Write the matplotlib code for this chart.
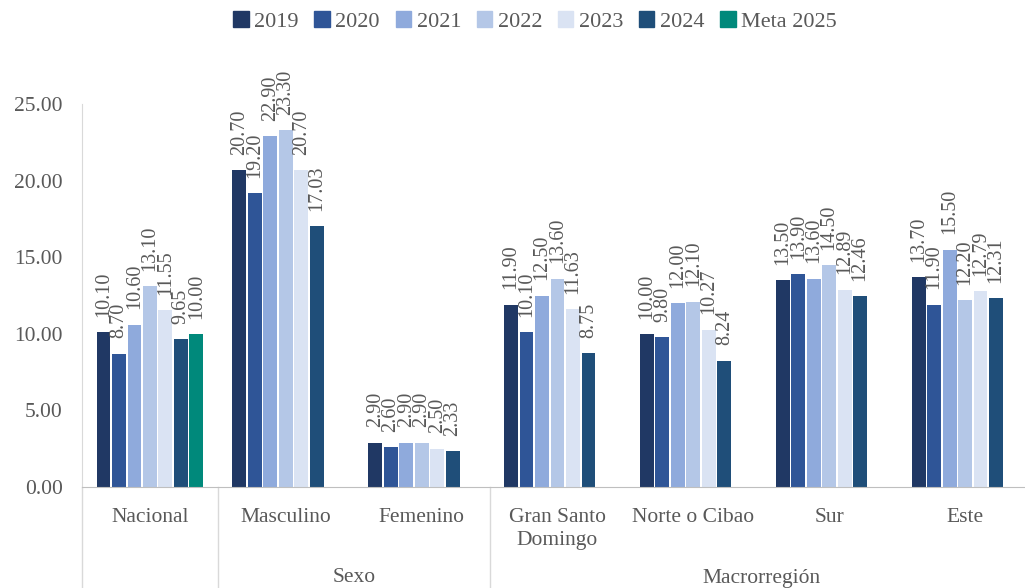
import matplotlib.pyplot as plt
import matplotlib.transforms as mtransforms
from matplotlib.patches import Patch

categories = ["Nacional", "Masculino", "Femenino", "Gran Santo\nDomingo",
              "Norte o Cibao", "Sur", "Este"]
years = ["2019", "2020", "2021", "2022", "2023", "2024", "Meta 2025"]
v2019 = [10.10, 20.70, 2.90, 11.90, 10.00, 13.50, 13.70]
v2020 = [8.70, 19.20, 2.60, 10.10, 9.80, 13.90, 11.90]
v2021 = [10.60, 22.90, 2.90, 12.50, 12.00, 13.60, 15.50]
v2022 = [13.10, 23.30, 2.90, 13.60, 12.10, 14.50, 12.20]
v2023 = [11.55, 20.70, 2.50, 11.63, 10.27, 12.89, 12.79]
v2024 = [9.65, 17.03, 2.33, 8.75, 8.24, 12.46, 12.31]
meta2025 = [10.00, None, None, None, None, None, None]
series = [v2019, v2020, v2021, v2022, v2023, v2024, meta2025]
colors = ["#203864", "#2F5597", "#8FAADC", "#B4C7E7", "#DAE3F3", "#1F4E79", "#00897B"]
groups = [("Sexo", 0.5, 2.5), ("Macrorregión", 2.5, 6.5)]

txt = "#595959"
plt.rcParams['font.family'] = ['Liberation Serif', 'DejaVu Serif']
plt.rcParams['font.size'] = 15.5

fig = plt.figure(figsize=(10.25, 5.88), dpi=100)
ax = fig.add_axes([82/1025, (588-487)/588, (1033-82)/1025, (487-104)/588])

slot = 0.114
width = 0.102
for i, vals in enumerate(series):
    off = (i - 3) * slot
    for j, v in enumerate(vals):
        if v is None:
            continue
        ax.bar(j + off, v, width, color=colors[i])
        # labels sit a bit above the bar top, as in the original
        ax.annotate(f"{v:.2f}", (j + off, v), xytext=(0, 11), textcoords="offset points",
                    rotation=90, ha="center", va="bottom", color=txt, fontsize=14.5,
                    annotation_clip=False)

ax.set_xlim(-0.5, 6.5)
ax.set_ylim(0, 25)
ax.set_yticks([0, 5, 10, 15, 20, 25])
ax.set_yticklabels([f"{t:.2f}" for t in [0, 5, 10, 15, 20, 25]], color=txt)
ax.tick_params(axis="y", length=0, pad=14)
ax.set_xticks([])
for s in ["top", "right"]:
    ax.spines[s].set_visible(False)
ax.spines["left"].set_color("#D9D9D9")
ax.spines["bottom"].set_color("#BFBFBF")

trans = mtransforms.blended_transform_factory(ax.transData, ax.transAxes)
low = -(588 - 487) / 383 - 0.01
for x in [-0.5, 0.5, 2.5, 6.5]:
    ax.plot([x, x], [0, low], transform=trans, color="#D9D9D9", lw=1, clip_on=False)
for j, c in enumerate(categories):
    ax.text(j, -0.055, c, transform=trans, ha="center", va="top", color=txt,
            linespacing=1.25)
for name, a, b in groups:
    ax.text((a + b) / 2, -(578 - 487) / 383, name, transform=trans, ha="center",
            va="center", color=txt)

handles = [Patch(color=c) for c in colors]
fig.legend(handles, years, loc="upper center", bbox_to_anchor=(0.522, 1.015), ncol=7,
           frameon=False, handlelength=0.7, handleheight=0.7, handletextpad=0.25,
           columnspacing=0.7, labelcolor=txt, fontsize=16)

fig.savefig("out.png", dpi=100)
